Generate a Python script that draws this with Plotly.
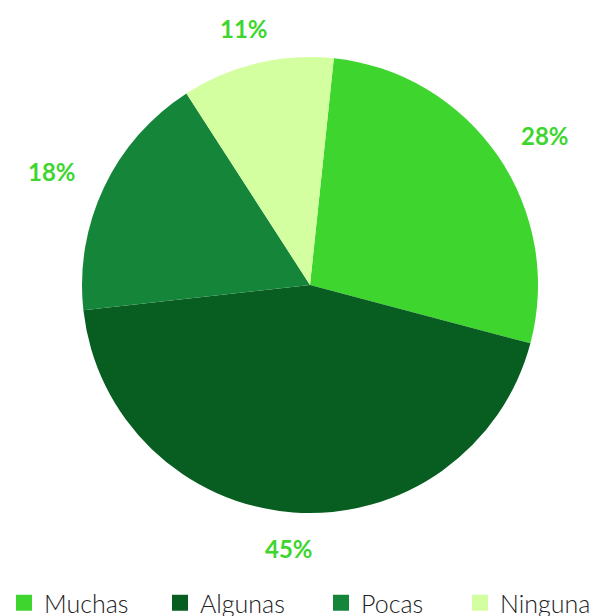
import math
import plotly.graph_objects as go

categories = ["Muchas", "Algunas", "Pocas", "Ninguna"]
values = [28, 45, 18, 11]
colors = ["#3ed62e", "#075e20", "#15853a", "#d4ffa0"]
label_color = "#3ed62e"

W, H = 601, 616
# pie centre and radius in pixels
cx, cy, radius = 310, 285, 228
rotation = 6  # start angle of first slice, degrees clockwise from 12 o'clock

dom_x = [(cx - radius) / W, (cx + radius) / W]
dom_y = [1 - (cy + radius) / H, 1 - (cy - radius) / H]

fig = go.Figure()
fig.add_trace(
    go.Pie(
        labels=categories,
        values=values,
        sort=False,
        direction="clockwise",
        rotation=rotation,
        marker=dict(colors=colors, line=dict(width=0)),
        textinfo="none",
        domain=dict(x=dom_x, y=dom_y),
        hoverinfo="label+value",
        showlegend=False,
    )
)

# Percentage labels placed outside each slice, along its mid angle
label_rx = radius + 58
label_ry = radius + 36
total = sum(values)
start = rotation
for v in values:
    span = v / total * 360
    mid = math.radians(start + span / 2)
    px = cx + label_rx * math.sin(mid)
    py = cy - label_ry * math.cos(mid)
    fig.add_annotation(
        x=px / W, y=1 - py / H, xref="paper", yref="paper",
        text=f"{v}%", showarrow=False, xanchor="center", yanchor="middle",
        font=dict(family="Lato", size=24, color=label_color, weight="bold"),
    )
    start += span

# Legend: one square-marker entry per category, each in its own legend box
legend_left_px = [4, 160, 321, 460]
for i, (name, c) in enumerate(zip(categories, colors)):
    key = "legend" if i == 0 else f"legend{i + 1}"
    fig.add_trace(
        go.Scatter(
            x=[None], y=[None], mode="markers", name=name,
            marker=dict(symbol="square", size=19, color=c),
            legend=key, showlegend=True, hoverinfo="skip",
        )
    )
    fig.update_layout({
        key: dict(
            x=legend_left_px[i] / W, xanchor="left",
            y=1 - 603 / H, yanchor="middle",
            orientation="h",
            bgcolor="rgba(0,0,0,0)",
            font=dict(family="Lato", size=25, color="#222222", weight=300),
            itemsizing="trace",
        )
    })

fig.update_layout(
    width=W,
    height=H,
    margin=dict(l=0, r=0, t=0, b=0, autoexpand=False),
    paper_bgcolor="white",
    plot_bgcolor="white",
    xaxis=dict(visible=False),
    yaxis=dict(visible=False),
)

fig.write_html("out.html")
